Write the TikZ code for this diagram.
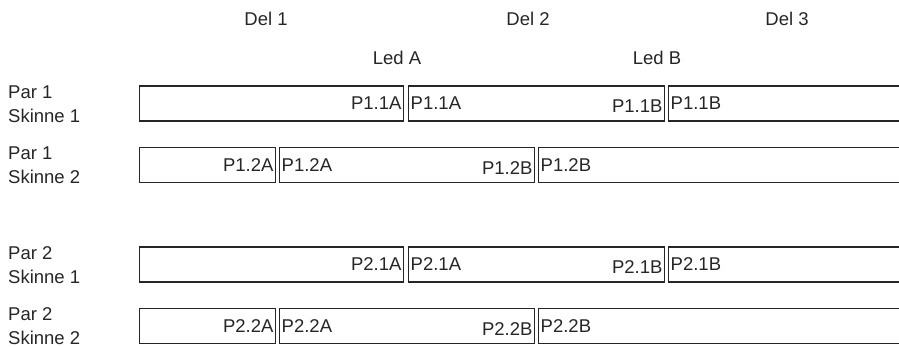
\documentclass[tikz,border=0pt]{standalone}
\usepackage{fontspec}
\setmainfont{Liberation Sans}
\usetikzlibrary{positioning}
\tikzset{
    every node/.style={font=\fontsize{18.5}{24}\selectfont, text=black!85},
    bar/.style={draw=black!85, line width=1.2pt, rectangle, minimum height=35pt, inner sep=0pt, anchor=west},
    tag/.style={inner sep=2.5pt},
    rowlabel/.style={align=left, anchor=west, inner sep=0pt},
    head/.style={inner sep=0pt}
}

\begin{document}
\begin{tikzpicture}[x=1pt, y=-1pt]
    \useasboundingbox (0,0) rectangle (899,347);
    \clip (0,0) rectangle (899,347);
    % Headers
    \node[head] (del1) at (266,19) {Del 1};
    \node[head] (del2) at (528,19) {Del 2};
    \node[head] (del3) at (787,19) {Del 3};
    \node[head] (ledA) at (397,58) {Led A};
    \node[head] (ledB) at (657,58) {Led B};
    % Skinne 1 rows
    \foreach \p/\y in {1/103.5, 2/264.5} {
        \node[rowlabel] (lab\p1) at (8,\y+1) {Par \p\\Skinne 1};
        \node[bar, minimum width=264pt] (b\p1a) at (139,\y) {};
        \node[bar, minimum width=256pt] (b\p1b) at (408,\y) {};
        \node[bar, minimum width=600pt] (b\p1c) at (668,\y) {};
        \node[tag, anchor=east] (t\p1ar) at (b\p1a.east) {P\p.1A};
        \node[tag, anchor=west] (t\p1bl) at (b\p1b.west) {P\p.1A};
        \node[tag, anchor=east, yshift=-3pt] (t\p1br) at (b\p1b.east) {P\p.1B};
        \node[tag, anchor=west] (t\p1cl) at (b\p1c.west) {P\p.1B};
    }
    % Skinne 2 rows
    \foreach \p/\y in {1/165, 2/326} {
        \node[rowlabel] (lab\p2) at (8,\y) {Par \p\\Skinne 2};
        \node[bar, minimum width=136pt] (b\p2a) at (139,\y) {};
        \node[bar, minimum width=255pt] (b\p2b) at (279,\y) {};
        \node[bar, minimum width=700pt] (b\p2c) at (538,\y) {};
        \node[tag, anchor=east] (t\p2ar) at (b\p2a.east) {P\p.2A};
        \node[tag, anchor=west] (t\p2bl) at (b\p2b.west) {P\p.2A};
        \node[tag, anchor=east, yshift=-3pt] (t\p2br) at (b\p2b.east) {P\p.2B};
        \node[tag, anchor=west] (t\p2cl) at (b\p2c.west) {P\p.2B};
    }
\end{tikzpicture}
\end{document}
